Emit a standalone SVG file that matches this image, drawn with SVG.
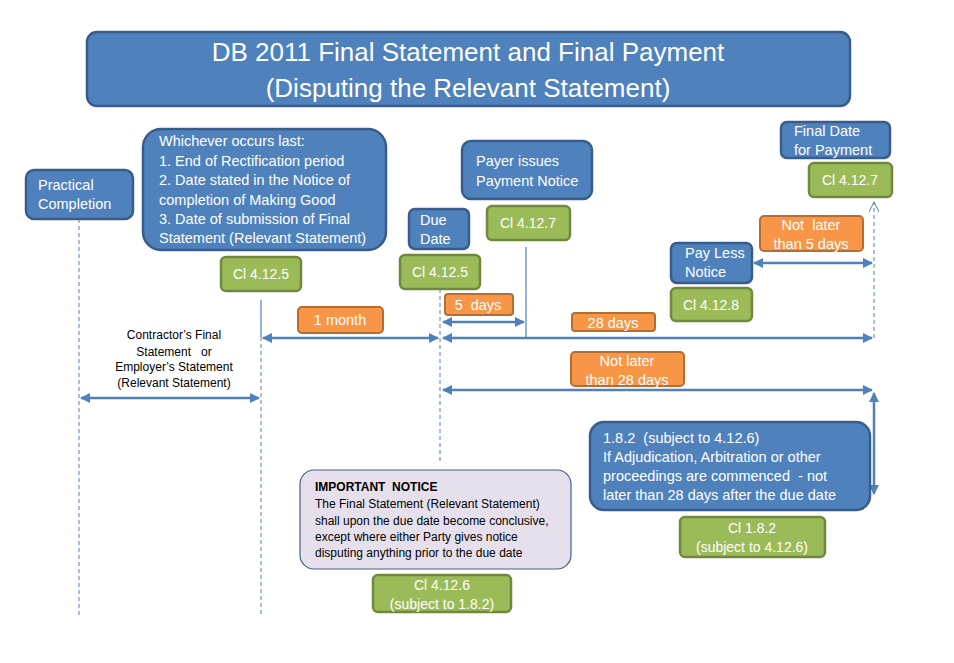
<svg xmlns="http://www.w3.org/2000/svg" width="954" height="663" viewBox="0 0 954 663" xml:space="preserve">
<defs>
<style>
text{font-family:"Liberation Sans","Noto Sans",sans-serif;white-space:pre;}
.blue{fill:#4F81BD;stroke:#385D8A;stroke-width:2.5;}
.green{fill:#9BBB59;stroke:#71893F;stroke-width:2.5;}
.orange{fill:#F79646;stroke:#B66D31;stroke-width:2;}
.lav{fill:#E6E0EC;stroke:#4A5F80;stroke-width:1.2;}
.wt{fill:#fff;font-size:14.5px;}
.ct{fill:#fff;font-size:14px;text-anchor:middle;}
.ot{fill:#fff;font-size:14.5px;text-anchor:middle;}
.nt{fill:#000;font-size:12px;}
.kt{fill:#000;font-size:12px;text-anchor:middle;}
.dash{stroke:#4F81BD;stroke-width:1;stroke-dasharray:4 3;fill:none;}
.solid{stroke:#4F81BD;stroke-width:1.2;fill:none;}
.arr{stroke:#4F81BD;stroke-width:2.5;fill:none;marker-start:url(#ah);marker-end:url(#ah);}
</style>
<marker id="ah" viewBox="0 0 10 10" refX="9" refY="5" markerWidth="4" markerHeight="4" orient="auto-start-reverse" markerUnits="strokeWidth">
<path d="M0,0 L10,5 L0,10 z" fill="#4F81BD"/>
</marker>
<marker id="open" viewBox="0 0 10 10" refX="10" refY="5" markerWidth="10" markerHeight="10" orient="auto" markerUnits="userSpaceOnUse">
<path d="M0,0 L10,5 L0,10" fill="none" stroke="#4F81BD" stroke-width="1"/>
</marker>
</defs>
<rect width="954" height="663" fill="#fff"/>

<g id="connectors">
<line class="dash" x1="79" y1="219" x2="79" y2="615"/>
<line class="solid" x1="261" y1="300" x2="261" y2="337"/>
<line class="dash" x1="261" y1="337" x2="261" y2="615"/>
<line class="dash" x1="440" y1="289" x2="440" y2="462"/>
<line class="solid" x1="526" y1="247" x2="526" y2="338"/>
<line class="dash" x1="874" y1="338" x2="874" y2="202" marker-end="url(#open)"/>
<line class="arr" x1="754" y1="263" x2="872" y2="263"/>
<line class="arr" x1="443" y1="322" x2="524" y2="322"/>
<line class="arr" x1="263" y1="338" x2="438" y2="338"/>
<line class="arr" x1="443" y1="338" x2="872" y2="338"/>
<line class="arr" x1="443" y1="390" x2="872" y2="390"/>
<line class="arr" x1="874" y1="393" x2="874" y2="494"/>
<line class="arr" x1="81" y1="398" x2="259" y2="398"/>
</g>

<g id="title">
<rect class="blue" x="87" y="32" width="763" height="74" rx="10"/>
<text x="468" y="61" fill="#fff" font-size="26" text-anchor="middle">DB 2011 Final Statement and Final Payment</text>
<text x="468" y="97" fill="#fff" font-size="26" text-anchor="middle">(Disputing the Relevant Statement)</text>
</g>

<g id="practical-completion">
<rect class="blue" x="26" y="170" width="107" height="49" rx="8"/>
<text class="wt" x="38" y="190">Practical</text>
<text class="wt" x="38" y="209">Completion</text>
</g>

<g id="whichever">
<rect class="blue" x="143" y="129" width="243" height="121" rx="18"/>
<text class="wt" x="159" y="146">Whichever occurs last:</text>
<text class="wt" x="159" y="166">1. End of Rectification period</text>
<text class="wt" x="159" y="185">2. Date stated in the Notice of</text>
<text class="wt" x="159" y="205">completion of Making Good</text>
<text class="wt" x="159" y="224">3. Date of submission of Final</text>
<text class="wt" x="159" y="243">Statement (Relevant Statement)</text>
</g>

<g id="cl-4-12-5-a">
<rect class="green" x="221" y="257" width="80" height="34" rx="5"/>
<text class="ct" x="261" y="279">Cl 4.12.5</text>
</g>

<g id="due-date">
<rect class="blue" x="409" y="209" width="60" height="40" rx="6"/>
<text class="wt" x="420" y="225">Due</text>
<text class="wt" x="420" y="244">Date</text>
</g>

<g id="cl-4-12-5-b">
<rect class="green" x="400" y="255" width="80" height="34" rx="5"/>
<text class="ct" x="440" y="277">Cl 4.12.5</text>
</g>

<g id="payer-issues">
<rect class="blue" x="462" y="141" width="130" height="58" rx="9"/>
<text class="wt" x="476" y="166">Payer issues</text>
<text class="wt" x="476" y="186">Payment Notice</text>
</g>

<g id="cl-4-12-7-a">
<rect class="green" x="487" y="206" width="83" height="34" rx="5"/>
<text class="ct" x="528" y="228">Cl 4.12.7</text>
</g>

<g id="final-date">
<rect class="blue" x="781" y="122" width="109" height="36" rx="6"/>
<text class="wt" x="794" y="136">Final Date</text>
<text class="wt" x="794" y="155">for Payment</text>
</g>

<g id="cl-4-12-7-b">
<rect class="green" x="809" y="163" width="83" height="34" rx="5"/>
<text class="ct" x="850" y="185">Cl 4.12.7</text>
</g>

<g id="not-later-5">
<rect class="orange" x="760" y="216" width="103" height="35" rx="4"/>
<text class="ot" x="811" y="230">Not  later</text>
<text class="ot" x="811" y="249">than 5 days</text>
</g>

<g id="pay-less">
<rect class="blue" x="671" y="243" width="81" height="40" rx="6"/>
<text class="wt" x="685" y="258">Pay Less</text>
<text class="wt" x="685" y="277">Notice</text>
</g>

<g id="cl-4-12-8">
<rect class="green" x="671" y="288" width="81" height="33" rx="5"/>
<text class="ct" x="711" y="310">Cl 4.12.8</text>
</g>

<g id="five-days">
<rect class="orange" x="445" y="294" width="68" height="21" rx="3"/>
<text class="ot" x="478" y="310">5  days</text>
</g>

<g id="twenty-eight-days">
<rect class="orange" x="572" y="313" width="83" height="18" rx="3"/>
<text class="ot" x="613" y="328" font-size="14">28 days</text>
</g>

<g id="one-month">
<rect class="orange" x="298" y="307" width="85" height="26" rx="4"/>
<text class="ot" x="340" y="325">1 month</text>
</g>

<g id="not-later-28">
<rect class="orange" x="571" y="352" width="113" height="34" rx="4"/>
<text class="ot" x="627" y="366">Not later</text>
<text class="ot" x="627" y="385">than 28 days</text>
</g>

<g id="contractor-statement">
<text class="kt" x="174" y="339">Contractor’s Final</text>
<text class="kt" x="174" y="356">Statement   or</text>
<text class="kt" x="174" y="371">Employer’s Statement</text>
<text class="kt" x="174" y="387">(Relevant Statement)</text>
</g>

<g id="clause-1-8-2-box">
<rect class="blue" x="590" y="422" width="280" height="88" rx="14"/>
<text class="wt" x="603" y="443">1.8.2  (subject to 4.12.6)</text>
<text class="wt" x="603" y="462">If Adjudication, Arbitration or other</text>
<text class="wt" x="603" y="481">proceedings are commenced  - not</text>
<text class="wt" x="603" y="500">later than 28 days after the due date</text>
</g>

<g id="cl-1-8-2">
<rect class="green" x="680" y="517" width="145" height="40" rx="5"/>
<text class="ct" x="752" y="533">Cl 1.8.2</text>
<text class="ct" x="752" y="552">(subject to 4.12.6)</text>
</g>

<g id="important-notice">
<rect class="lav" x="300" y="470" width="271" height="99" rx="14"/>
<text class="nt" x="315" y="491" font-weight="bold">IMPORTANT  NOTICE</text>
<text class="nt" x="315" y="508">The Final Statement (Relevant Statement)</text>
<text class="nt" x="315" y="525">shall upon the due date become conclusive,</text>
<text class="nt" x="315" y="541">except where either Party gives notice</text>
<text class="nt" x="315" y="557">disputing anything prior to the due date</text>
</g>

<g id="cl-4-12-6">
<rect class="green" x="373" y="575" width="138" height="37" rx="5"/>
<text class="ct" x="442" y="590">Cl 4.12.6</text>
<text class="ct" x="442" y="609">(subject to 1.8.2)</text>
</g>
</svg>
